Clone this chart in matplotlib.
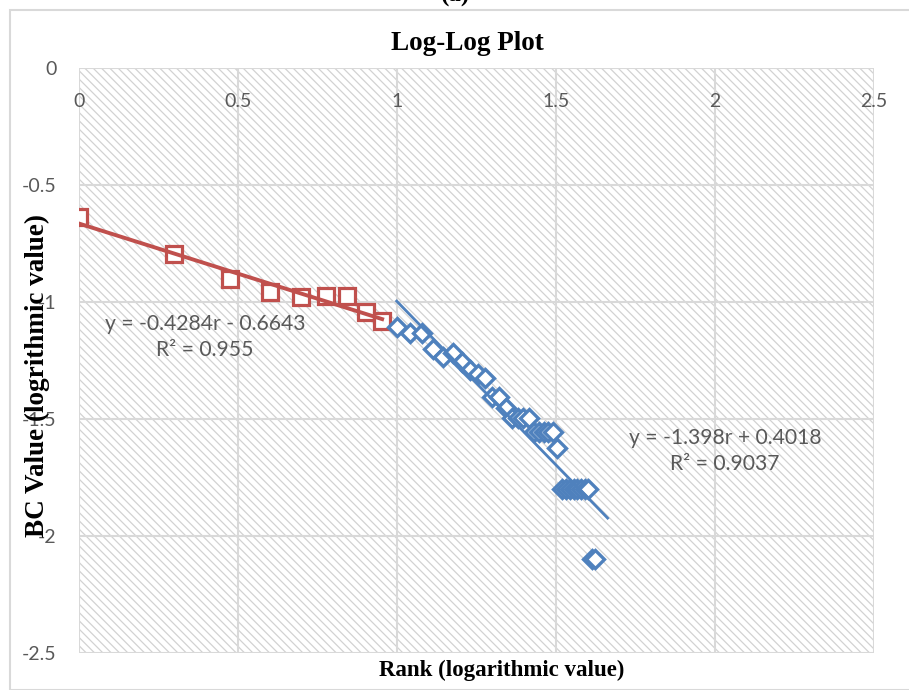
import matplotlib
matplotlib.use("Agg")
import matplotlib.pyplot as plt
from matplotlib.patches import Rectangle
import numpy as np

# ---- data ----
red_rank = [1, 2, 3, 4, 5, 6, 7, 8, 9]
red_bc = [-0.635, -0.795, -0.903, -0.959, -0.977, -0.974, -0.974, -1.041, -1.080]

blue_rank = list(range(10, 43))
blue_bc = [-1.106, -1.131, -1.131, -1.202, -1.234, -1.219, -1.255, -1.291,
           -1.308, -1.324, -1.405, -1.405, -1.452, -1.497, -1.497, -1.497,
           -1.497, -1.557, -1.557, -1.557, -1.557, -1.557, -1.625, -1.800,
           -1.800, -1.800, -1.800, -1.800, -1.800, -1.800, -1.800, -2.100,
           -2.100]

red_fit = (-0.4284, -0.6643)
blue_fit = (-1.398, 0.4018)
red_label = "y = -0.4284r - 0.6643\nR² = 0.955"
blue_label = "y = -1.398r + 0.4018\nR² = 0.9037"
blue_forecast = 0.04

x_ticks = [0, 0.5, 1, 1.5, 2, 2.5]
y_ticks = [0, -0.5, -1, -1.5, -2, -2.5]

RED = "#C0504D"
BLUE = "#4F81BD"
GRID = "#d9d9d9"
TXT = "#595959"
plt.rcParams['hatch.linewidth'] = 0.9

fig = plt.figure(figsize=(9.09, 6.90), dpi=100)
ax = fig.add_axes([78.7 / 909, 1 - 653 / 690, 795 / 909, 585 / 690])

# outer chart border
fig.patches.append(Rectangle((10 / 909, 0), 1.2, 1 - 10 / 690, transform=fig.transFigure,
                             fill=False, edgecolor=GRID, linewidth=1.5))

# hatched plot area
ax.add_patch(Rectangle((0, 0), 1, 1, transform=ax.transAxes, facecolor="white",
                       edgecolor="#d2d2d2", hatch="\\\\\\\\", linewidth=0, zorder=0.2))

rx = np.log10(red_rank)
bx = np.log10(blue_rank)

ax.plot(rx, red_bc, linestyle="none", marker="s", ms=11, mew=2.3,
        mec=RED, mfc="white", zorder=3)
ax.plot(bx, blue_bc, linestyle="none", marker="D", ms=9.5, mew=2.4,
        mec=BLUE, mfc="white", zorder=3)

tr = np.array([rx.min(), rx.max()])
ax.plot(tr, red_fit[0] * tr + red_fit[1], color=RED, lw=2.8, zorder=4)
tb = np.array([bx.min(), bx.max() + blue_forecast])
ax.plot(tb, blue_fit[0] * tb + blue_fit[1], color=BLUE, lw=2.0, zorder=4)

eq_font = dict(fontsize=15.2, color=TXT, family="Lato", ha="center", va="center",
               multialignment="center", linespacing=1.35)
ax.text((205 - 78.7) / 318, (68 - 337) / 234, red_label, **eq_font)
ax.text((725 - 78.7) / 318, (68 - 451) / 234, blue_label, **eq_font)

ax.set_xlim(0, 2.5)
ax.set_ylim(-2.5, 0)
ax.set_xticks(x_ticks)
ax.set_xticklabels([f"{t:g}" for t in x_ticks])
ax.set_yticks(y_ticks)
ax.set_yticklabels([f"{t:g}" for t in y_ticks])
ax.grid(True, color=GRID, lw=1.5)
ax.set_axisbelow(True)
for s in ax.spines.values():
    s.set_visible(False)

ax.xaxis.tick_top()
ax.tick_params(axis="x", length=0, pad=-30, labelsize=14, labelcolor=TXT)
ax.tick_params(axis="y", length=0, pad=16, labelsize=14, labelcolor=TXT)
for lab in ax.get_xticklabels() + ax.get_yticklabels():
    lab.set_family("Lato")

ax.xaxis.set_label_position("bottom")
ax.set_xlabel("Rank (logarithmic value)", family="Liberation Serif",
              fontweight="bold", fontsize=16.5, color="black")
ax.xaxis.set_label_coords((502 - 78.7) / 795, -0.012)
ax.set_ylabel("BC Value (logrithmic value)", family="Liberation Serif",
              fontweight="bold", fontsize=19.5, color="black")
ax.yaxis.set_label_coords(-0.036, 0.475)

fig.text(467 / 909, 1 - 44 / 690, "Log-Log Plot", family="Liberation Serif",
         fontweight="bold", fontsize=19.5, ha="center", va="center")
fig.text(455 / 909, 1 - 7 / 690, "(a)", family="Liberation Serif",
         fontweight="bold", fontsize=18, ha="center", va="bottom")

fig.savefig("out.png", dpi=100)
